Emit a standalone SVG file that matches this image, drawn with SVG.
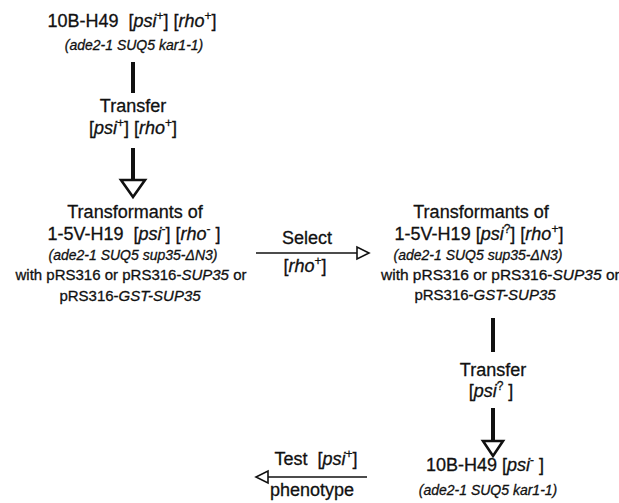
<svg xmlns="http://www.w3.org/2000/svg" width="619" height="503" viewBox="0 0 619 503">
<style>
text{font-family:"Liberation Sans",Arial,sans-serif;fill:#111;stroke:#111;stroke-width:0.3;text-anchor:middle;white-space:pre}
.m{font-size:18px}
.s{font-size:15px}
.it{font-size:14px;font-style:italic}
.i{font-style:italic}
.sp{font-size:12px}
.bar{stroke:#111;stroke-width:4;fill:none}
.ln{stroke:#111;stroke-width:1.6;fill:none}
.hd{stroke:#111;stroke-width:2.6;fill:#fff;stroke-linejoin:miter}
.hs{stroke:#111;stroke-width:1.6;fill:#fff}
</style>
<rect width="619" height="503" fill="#fff"/>
<g id="connectors">
<line class="bar" x1="133" y1="62" x2="133" y2="93"/>
<line class="bar" x1="133" y1="148" x2="133" y2="180"/>
<polygon class="hd" points="121,180 145,180 133,197"/>
<line class="ln" x1="256" y1="253" x2="357" y2="253"/>
<polygon class="hs" points="357,247 357,259 369,253"/>
<line class="bar" x1="493" y1="318" x2="493" y2="352"/>
<line class="bar" x1="493" y1="408" x2="493" y2="441"/>
<polygon class="hd" points="483,441 503,441 493,456"/>
<line class="ln" x1="268" y1="477" x2="367" y2="477"/>
<polygon class="hs" points="268,471 268,483 256,477"/>
</g>
<g id="n1">
<text class="m" x="132" y="27">10B-H49  [<tspan class="i">psi</tspan><tspan class="sp" dy="-7">+</tspan><tspan dy="7">] [</tspan><tspan class="i">rho</tspan><tspan class="sp" dy="-7">+</tspan><tspan dy="7">]</tspan></text>
<text class="it" x="134" y="50">(ade2-1 SUQ5 kar1-1)</text>
</g>
<g id="transfer1">
<text class="m" x="133" y="112">Transfer</text>
<text class="m" x="133" y="134">[<tspan class="i">psi</tspan><tspan class="sp" dy="-7">+</tspan><tspan dy="7">] [</tspan><tspan class="i">rho</tspan><tspan class="sp" dy="-7">+</tspan><tspan dy="7">]</tspan></text>
</g>
<g id="n2">
<text class="m" x="135" y="218">Transformants of</text>
<text class="m" x="134" y="240">1-5V-H19  [<tspan class="i">psi</tspan><tspan class="sp" dy="-7">-</tspan><tspan dy="7">] [</tspan><tspan class="i">rho</tspan><tspan class="sp" dy="-7">-</tspan><tspan dy="7"> ]</tspan></text>
<text class="it" x="133" y="260">(ade2-1 SUQ5 sup35-ΔN3)</text>
<text class="s" x="131" y="280">with pRS316 or pRS316-<tspan class="i">SUP35</tspan> or</text>
<text class="s" x="130" y="301">pRS316-<tspan class="i">GST-SUP35</tspan></text>
</g>
<g id="select">
<text class="m" x="307" y="244">Select</text>
<text class="m" x="305" y="272">[<tspan class="i">rho</tspan><tspan class="sp" dy="-7">+</tspan><tspan dy="7">]</tspan></text>
</g>
<g id="n3">
<text class="m" x="481" y="218">Transformants of</text>
<text class="m" x="479" y="240">1-5V-H19 [<tspan class="i">psi</tspan><tspan class="sp" dy="-7">?</tspan><tspan dy="7">] [</tspan><tspan class="i">rho</tspan><tspan class="sp" dy="-7">+</tspan><tspan dy="7">]</tspan></text>
<text class="it" x="478" y="260">(ade2-1 SUQ5 sup35-ΔN3)</text>
<text class="s" x="381" y="280" style="text-anchor:start;font-size:15.5px">with pRS316 or pRS316-<tspan class="i">SUP35</tspan> or</text>
<text class="s" x="485" y="300">pRS316-<tspan class="i">GST-SUP35</tspan></text>
</g>
<g id="transfer2">
<text class="m" x="493" y="376">Transfer</text>
<text class="m" x="491" y="397">[<tspan class="i">psi</tspan><tspan class="sp" dy="-7">?</tspan><tspan dy="7"> ]</tspan></text>
</g>
<g id="n4">
<text class="m" x="485" y="471">10B-H49 [<tspan class="i">psi</tspan><tspan class="sp" dy="-7">-</tspan><tspan dy="7"> ]</tspan></text>
<text class="it" x="488" y="495">(ade2-1 SUQ5 kar1-1)</text>
</g>
<g id="test">
<text class="m" x="316" y="465">Test  [<tspan class="i">psi</tspan><tspan class="sp" dy="-7">+</tspan><tspan dy="7">]</tspan></text>
<text class="m" x="312" y="496">phenotype</text>
</g>
</svg>
